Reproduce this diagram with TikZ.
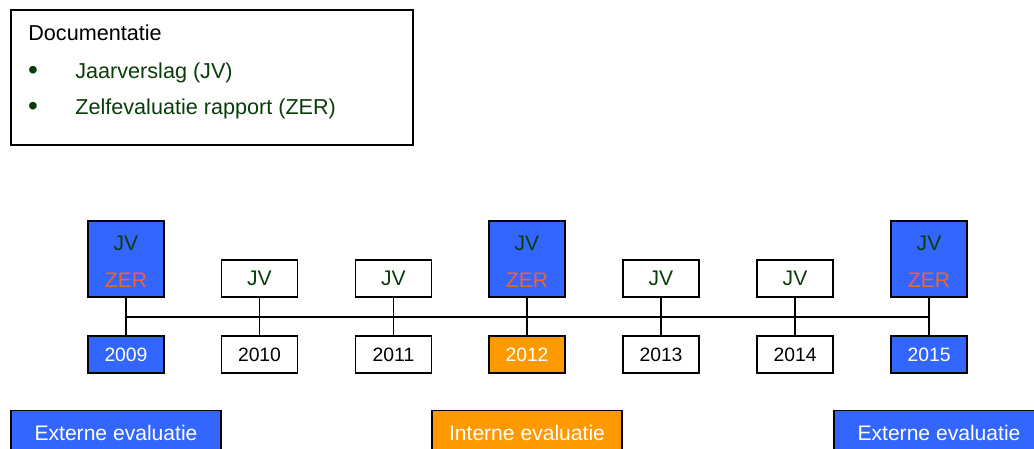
\documentclass[tikz,border=0pt]{standalone}
\usepackage{fontspec}
\setmainfont{Liberation Sans}
\usetikzlibrary{positioning}
\definecolor{jvgreen}{RGB}{10,60,10}
\definecolor{zerorange}{RGB}{240,100,40}
\definecolor{evalblue}{RGB}{51,102,255}
\definecolor{evalorange}{RGB}{255,153,0}
\newcommand{\jvzer}{\rule{0pt}{11.5pt}\textcolor{jvgreen}{JV}\\\textcolor{zerorange}{ZER}}
\tikzset{
	yearbox/.style={draw=black, line width=1.1pt, minimum width=1.52cm, minimum height=0.74cm, inner sep=0pt, font=\fontsize{11}{13}\selectfont},
	jvbox/.style={yearbox, text=jvgreen, font=\fontsize{12}{14}\selectfont},
	bigbox/.style={draw=black, line width=1.1pt, fill=evalblue, minimum width=1.52cm, minimum height=1.52cm, inner sep=0pt, align=center, font=\fontsize{12}{21.5}\selectfont},
	evalbox/.style={draw=black, line width=1.1pt, minimum height=0.9cm, text=white, inner sep=0pt, font=\fontsize{12}{14}\selectfont},
	doctext/.style={anchor=west, inner sep=0pt, font=\fontsize{12.3}{14}\selectfont},
	timeline/.style={line width=1.1pt}
}
\begin{document}
\begin{tikzpicture}[x=0.02cm, y=-0.02cm]
		%%%%% FRAME %%%%%
		\clip (0, 0) rectangle (1034, 449);
		
		%%%%% DOCUMENTATIE %%%%%
		\draw[line width=1.1pt] (11, 10) rectangle (413, 145);
		\node[doctext] (doc) at (28, 33) {Documentatie};
		\node[font=\fontsize{16}{16}\selectfont, text=jvgreen] (b1) at (33, 73) {\textbullet};
		\node[doctext, text=jvgreen] (itemjv) at (75, 73) {Jaarverslag (JV)};
		\node[font=\fontsize{16}{16}\selectfont, text=jvgreen] (b2) at (33, 109) {\textbullet};
		\node[doctext, text=jvgreen] (itemzer) at (75, 109) {Zelfevaluatie rapport (ZER)};
		
		%%%%% JAREN %%%%%
		\node[yearbox, fill=evalblue, text=white] (y2009) at (126, 354.5) {2009};
		\node[yearbox] (y2010) at (259.5, 354.5) {2010};
		\node[yearbox] (y2011) at (393.5, 354.5) {2011};
		\node[yearbox, fill=evalorange, text=white] (y2012) at (527, 354.5) {2012};
		\node[yearbox] (y2013) at (661, 354.5) {2013};
		\node[yearbox] (y2014) at (795, 354.5) {2014};
		\node[yearbox, fill=evalblue, text=white] (y2015) at (929, 354.5) {2015};
		
		%%%%% DOCUMENTEN %%%%%
		\node[bigbox] (d2009) at (126, 259) {\jvzer};
		\node[jvbox] (d2010) at (259.5, 278.5) {JV};
		\node[jvbox] (d2011) at (393.5, 278.5) {JV};
		\node[bigbox] (d2012) at (527, 259) {\jvzer};
		\node[jvbox] (d2013) at (661, 278.5) {JV};
		\node[jvbox] (d2014) at (795, 278.5) {JV};
		\node[bigbox] (d2015) at (929, 259) {\jvzer};
		
		%%%%% TIJDLIJN %%%%%
		\coordinate (tstart) at (126, 317);
		\coordinate (tend) at (929, 317);
		\draw[timeline] (tstart) -- (tend);
		\foreach \y in {2009,2010,2011,2012,2013,2014,2015}
			\draw[timeline] (d\y.south) -- (y\y.north);
		
		%%%%% EVALUATIES %%%%%
		\node[evalbox, fill=evalblue, minimum width=4.2cm] (ext1) at (116, 433) {Externe evaluatie};
		\node[evalbox, fill=evalorange, minimum width=3.8cm] (int1) at (527, 433) {Interne evaluatie};
		\node[evalbox, fill=evalblue, minimum width=4.2cm] (ext2) at (939, 433) {Externe evaluatie};
		
		%%%%% END %%%%%
	\end{tikzpicture}
\end{document}
